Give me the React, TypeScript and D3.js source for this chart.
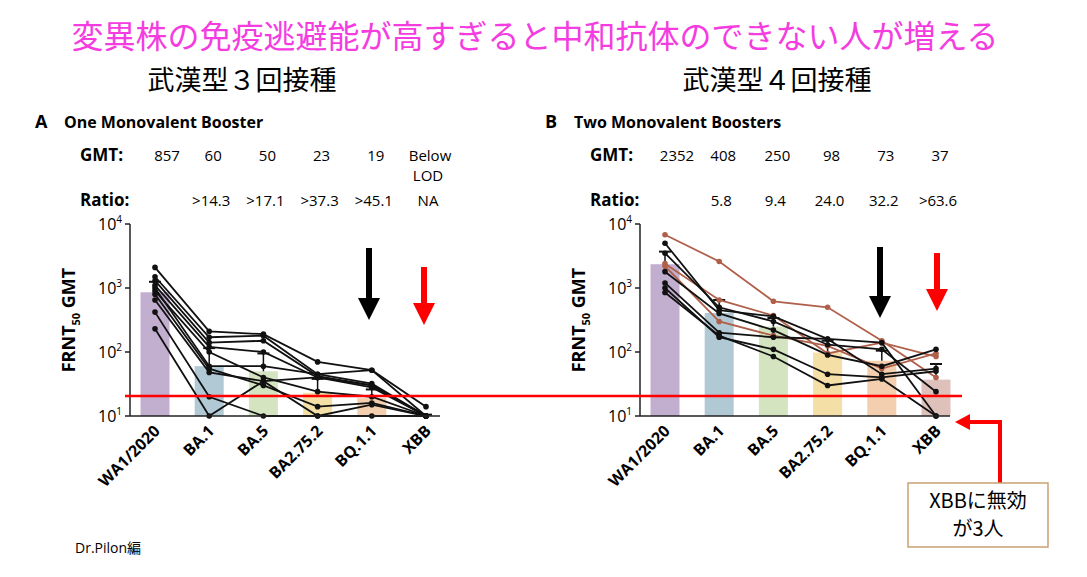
import * as d3 from "d3";

const CATS = ["WA1/2020", "BA.1", "BA.5", "BA2.75.2", "BQ.1.1", "XBB"];
const BAR_COLORS = ["#bba5c9", "#a7c3cf", "#cfe1b9", "#f3dc9c", "#f2caa6", "#dcbab4"];

const A_GMT = ["857", "60", "50", "23", "19", "Below"];
const A_RATIO = ["", ">14.3", ">17.1", ">37.3", ">45.1", "NA"];
const A_BARS = [857, 60, 50, 23, 19, 10];
const A_ERR = [1250, 115, 95, 38, 26, 10.5];
const A_LINES = [
  [2100, 210, 190, 70, 52, 14],
  [1500, 170, 180, 45, 32, 10],
  [1300, 140, 150, 42, 30, 10],
  [1100, 120, 100, 40, 28, 10],
  [1000, 60, 60, 45, 52, 10],
  [900, 100, 40, 24, 20, 10],
  [800, 55, 30, 14, 16, 10],
  [650, 48, 35, 10, 15, 10],
  [420, 20, 10, 10, 10, 10],
  [230, 10, 35, 40, 30, 10],
];

const B_GMT = ["2352", "408", "250", "98", "73", "37"];
const B_RATIO = ["", "5.8", "9.4", "24.0", "32.2", ">63.6"];
const B_BARS = [2352, 408, 250, 98, 73, 37];
const B_ERR = [3700, 650, 340, 150, 105, 65];
const B_BLACK = [
  [5000, 450, 360, 160, 140, 10],
  [3500, 500, 300, 130, 110, 24],
  [1800, 400, 220, 90, 60, 110],
  [1200, 200, 170, 160, 45, 55],
  [1000, 170, 110, 45, 40, 50],
  [850, 180, 85, 30, 38, 10],
];
const B_BROWN = [
  [6800, 2600, 620, 500, 150, 40],
  [2400, 650, 370, 95, 140, 85],
  [2200, 300, 180, 125, 55, 95],
];

const FONT = "'Open Sans', 'Noto Sans CJK JP', sans-serif";
const JP = "'Noto Sans CJK JP', sans-serif";

function Panel({ x0, letter, title, gmt, ratio, bars, err, lines, brown, belowLod }: any) {
  const axisX = x0;
  const x = d3.scalePoint<string>().domain(CATS).range([x0 + 25, x0 + 296]);
  const y = d3.scaleLog().domain([10, 10000]).range([416, 224]);
  const line = d3.line<number>().x((_, i) => x(CATS[i])!).y((v) => y(v));
  const bw = 29;
  return (
    <g fontFamily={FONT}>
      <text x={x0 - 95} y={128} fontSize={18} fontWeight={700}>{letter}</text>
      <text x={x0 - 66} y={128} fontSize={16} fontWeight={700}>{title}</text>
      <text x={x0 - 50} y={161} fontSize={17} fontWeight={700}>GMT:</text>
      <text x={x0 - 50} y={206} fontSize={17} fontWeight={700}>Ratio:</text>
      {CATS.map((c, i) => (
        <g key={c} fontSize={15} textAnchor="middle">
          <text x={x(c)! + (i === 0 ? 12 : 4)} y={161}>{gmt[i]}</text>
          {belowLod && i === 5 && <text x={x(c)! + 2} y={181}>LOD</text>}
          <text x={x(c)! + 2} y={206}>{ratio[i]}</text>
        </g>
      ))}
      {CATS.map((c, i) => (
        <rect key={c} x={x(c)! - bw / 2} y={y(bars[i])} width={bw} height={416 - y(bars[i])} fill={BAR_COLORS[i]} opacity={0.9} />
      ))}
      {CATS.map((c, i) => (
        <g key={c} stroke="#111" strokeWidth={1.5}>
          <line x1={x(c)} x2={x(c)} y1={y(bars[i])} y2={y(err[i])} />
          <line x1={x(c)! - 6} x2={x(c)! + 6} y1={y(err[i])} y2={y(err[i])} strokeWidth={2} />
        </g>
      ))}
      {brown.map((l: number[], k: number) => (
        <g key={"b" + k}>
          <path d={line(l)!} fill="none" stroke="#b0604a" strokeWidth={1.8} />
          {l.map((v, i) => <circle key={i} cx={x(CATS[i])} cy={y(v)} r={2.8} fill="#b0604a" />)}
        </g>
      ))}
      {lines.map((l: number[], k: number) => (
        <g key={k}>
          <path d={line(l)!} fill="none" stroke="#111" strokeWidth={1.8} />
          {l.map((v, i) => <circle key={i} cx={x(CATS[i])} cy={y(v)} r={2.8} fill="#111" />)}
        </g>
      ))}
      <line x1={axisX} x2={axisX} y1={224} y2={416} stroke="#222" strokeWidth={1.5} />
      <line x1={axisX} x2={x0 + 310} y1={416} y2={416} stroke="#222" strokeWidth={1.5} />
      {[10, 100, 1000, 10000].map((t, i) => (
        <g key={t}>
          <line x1={axisX - 5} x2={axisX} y1={y(t)} y2={y(t)} stroke="#222" strokeWidth={1.5} />
          <text x={axisX - 8} y={y(t) + 6} fontSize={16} textAnchor="end">
            10<tspan dy={-7} fontSize={10}>{i + 1}</tspan>
          </text>
        </g>
      ))}
      <text transform={`translate(${x0 - 55},320) rotate(-90)`} textAnchor="middle" fontSize={18} fontWeight={700}>
        FRNT<tspan dy={5} fontSize={11}>50</tspan><tspan dy={-5}> GMT</tspan>
      </text>
      {CATS.map((c) => (
        <text key={c} transform={`translate(${x(c)! + 6},432) rotate(-45)`} textAnchor="end" fontSize={16} fontWeight={700}>{c}</text>
      ))}
    </g>
  );
}

function Arrow({ x, y1, y2, color }: any) {
  return (
    <g fill={color}>
      <rect x={x - 3} y={y1} width={6} height={y2 - y1 - 20} />
      <path d={`M${x - 11},${y2 - 22} L${x + 11},${y2 - 22} L${x},${y2} Z`} />
    </g>
  );
}

export default function App() {
  return (
    <svg width={1087} height={577} style={{ position: "absolute", left: 0, top: 0, background: "#fff" }}>
      <text x={535} y={48} textAnchor="middle" fontSize={32} fill="#f43ce0" fontFamily={JP}>
        変異株の免疫逃避能が高すぎると中和抗体のできない人が増える
      </text>
      <text x={242} y={90} textAnchor="middle" fontSize={27} fontFamily={JP}>武漢型３回接種</text>
      <text x={777} y={90} textAnchor="middle" fontSize={27} fontFamily={JP}>武漢型４回接種</text>
      <Panel x0={130} letter="A" title="One Monovalent Booster" gmt={A_GMT} ratio={A_RATIO} bars={A_BARS} err={A_ERR} lines={A_LINES} brown={[]} belowLod />
      <Panel x0={640} letter="B" title="Two Monovalent Boosters" gmt={B_GMT} ratio={B_RATIO} bars={B_BARS} err={B_ERR} lines={B_BLACK} brown={B_BROWN} />
      <line x1={125} x2={962} y1={396} y2={396} stroke="#f00" strokeWidth={2.5} />
      <Arrow x={369} y1={248} y2={320} color="#000" />
      <Arrow x={424} y1={267} y2={325} color="#f00" />
      <Arrow x={880} y1={247} y2={318} color="#000" />
      <Arrow x={937} y1={253} y2={311} color="#f00" />
      <path d="M1000,483 L1000,422 L968,422" fill="none" stroke="#f00" strokeWidth={4} />
      <path d="M955,422 L970,414 L970,430 Z" fill="#f00" />
      <rect x={908} y={483} width={140} height={64} fill="#fff" stroke="#c9a173" strokeWidth={1.5} />
      <text x={978} y={508} textAnchor="middle" fontSize={20} fontFamily={JP}>XBBに無効</text>
      <text x={978} y={536} textAnchor="middle" fontSize={20} fontFamily={JP}>が3人</text>
      <text x={75} y={553} fontSize={14} fontFamily={FONT}>Dr.Pilon編</text>
    </svg>
  );
}
